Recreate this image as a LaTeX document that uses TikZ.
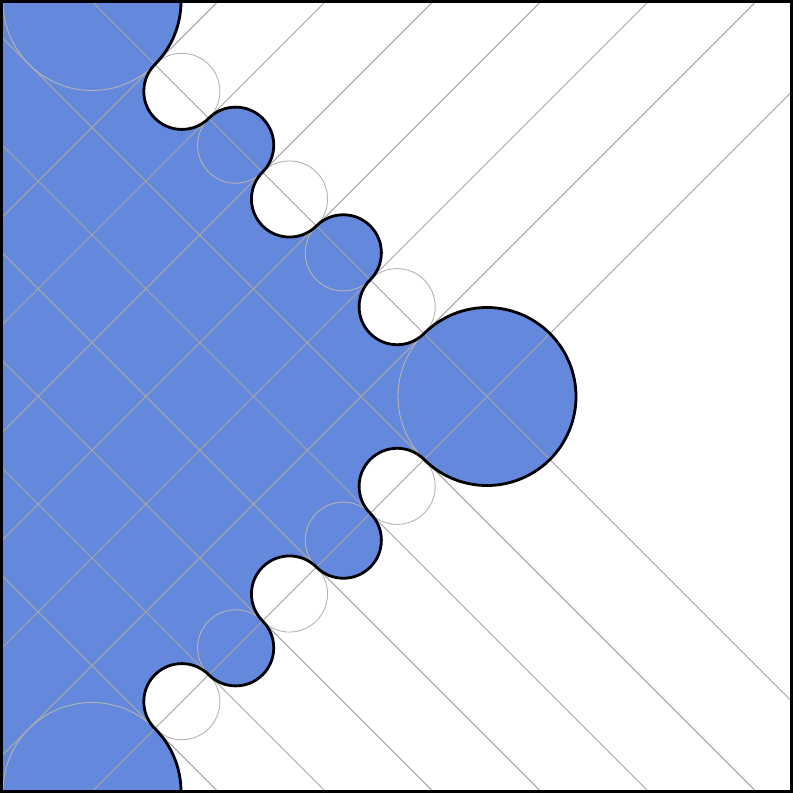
\documentclass[tikz,border=0pt]{standalone}
\usetikzlibrary{calc}
\definecolor{fillblue}{RGB}{100,136,220}
\definecolor{guidegray}{RGB}{166,166,166}
\definecolor{circgray}{RGB}{180,180,180}
\begin{document}
\begin{tikzpicture}[x=1pt,y=-1pt,
  guide/.style={draw=guidegray,line width=1pt},
  guidecirc/.style={draw=circgray,line width=0.9pt},
  bound/.style={draw=black,line width=2.8pt,line join=round},
  frameline/.style={draw=black,line width=3pt}]
\pgfmathsetmacro\bigR{89}
\pgfmathsetmacro\halfh{395}
\pgfmathsetmacro\chainlen{\halfh*sqrt(2)}
\pgfmathsetmacro\smr{(\chainlen-2*\bigR)/10}
\coordinate (T) at (92,1.5);
\coordinate (B) at (92,791.5);
\coordinate (C) at (487,396.5);
\useasboundingbox (0,0) rectangle (793,793);
\fill[white] (0,0) rectangle (793,793);
\def\bdry{(181,1.5) arc[start angle=0,end angle=45,radius=\bigR]
 arc[start angle=225,end angle=45,radius=\smr]
 arc[start angle=225,end angle=405,radius=\smr]
 arc[start angle=225,end angle=45,radius=\smr]
 arc[start angle=225,end angle=405,radius=\smr]
 arc[start angle=225,end angle=45,radius=\smr]
 arc[start angle=225,end angle=495,radius=\bigR]
 arc[start angle=-45,end angle=-225,radius=\smr]
 arc[start angle=-45,end angle=135,radius=\smr]
 arc[start angle=-45,end angle=-225,radius=\smr]
 arc[start angle=-45,end angle=135,radius=\smr]
 arc[start angle=-45,end angle=-225,radius=\smr]
 arc[start angle=-45,end angle=0,radius=\bigR]}
\fill[fillblue] \bdry -- (1.5,791.5) -- (1.5,1.5) -- cycle;
\begin{scope}
\clip (1.5,1.5) rectangle (791.5,791.5);
\foreach \k in {0,...,5} {
  \pgfmathsetmacro\sdist{\bigR+2*\k*\smr}
  \coordinate (p) at ($(T)+(45:\sdist)$);
  \draw[guide] ($(p)+(-45:1200)$) -- ($(p)+(135:1200)$);
  \coordinate (q) at ($(B)+(-45:\sdist)$);
  \draw[guide] ($(q)+(45:1200)$) -- ($(q)+(225:1200)$);
}
\draw[guide] (T) -- ($(T)+(45:1200)$);
\draw[guide] (B) -- ($(B)+(-45:1200)$);
\draw[guidecirc] (T) circle[radius=\bigR];
\draw[guidecirc] (B) circle[radius=\bigR];
\draw[guidecirc] (C) circle[radius=\bigR];
\foreach \k in {0,...,4} {
  \pgfmathsetmacro\sdist{\bigR+(2*\k+1)*\smr}
  \draw[guidecirc] ($(T)+(45:\sdist)$) circle[radius=\smr];
  \draw[guidecirc] ($(B)+(-45:\sdist)$) circle[radius=\smr];
}
\end{scope}
\draw[bound] \bdry;
\draw[frameline] (1.5,1.5) rectangle (791.5,791.5);
\end{tikzpicture}
\end{document}
